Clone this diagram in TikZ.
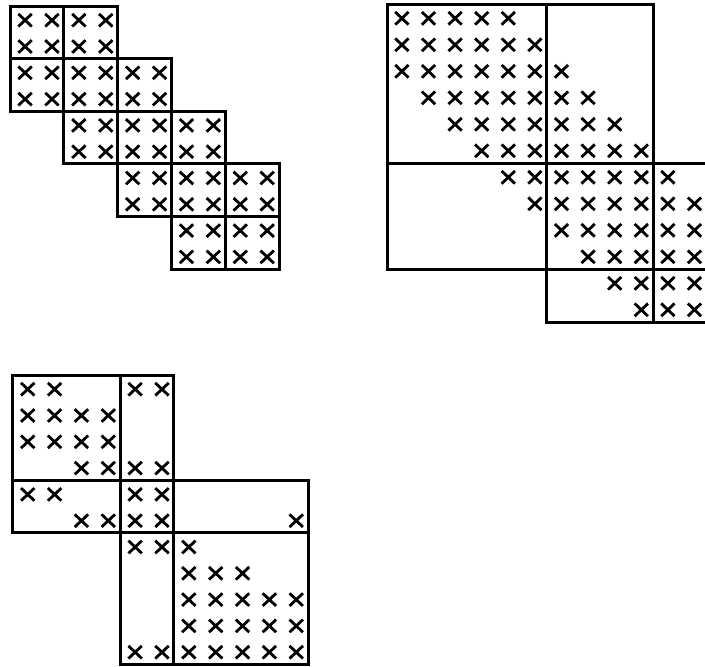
\documentclass[tikz,border=0pt]{standalone}
\tikzset{
  gridline/.style={line width=3pt, line join=miter, line cap=rect},
  crossmark/.style={line width=2.8pt},
}
\newcommand\crs[2]{\draw[crossmark,shift={(#2-0.44,#1-0.46)}] (-0.25,-0.24)--(0.25,0.24) (0.25,-0.24)--(-0.25,0.24);}
\newcommand\blk[4]{\draw[gridline] (#1,#3) rectangle (#2,#4);}
\begin{document}
\begin{tikzpicture}[x=1pt,y=-1pt]
\useasboundingbox (0,0) rectangle (705,667);
\clip (0,0) rectangle (705,667);
\fill[white] (0,0) rectangle (705,667);
% ---------- top-left: block tridiagonal ----------
\begin{scope}[xshift=10pt,yshift=-6pt,x=26.9pt,y=-26.3pt]
  \foreach \bi in {1,...,5}{
    \foreach \bj in {1,...,5}{
      \pgfmathtruncatemacro\dd{abs(\bi-\bj)}
      \ifnum\dd<2
        \pgfmathtruncatemacro\ca{2*\bj-2}
        \pgfmathtruncatemacro\cb{2*\bj}
        \pgfmathtruncatemacro\ra{2*\bi-2}
        \pgfmathtruncatemacro\rb{2*\bi}
        \blk{\ca}{\cb}{\ra}{\rb}
        \pgfmathtruncatemacro\rr{2*\bi-1}
        \pgfmathtruncatemacro\cc{2*\bj-1}
        \crs{\rr}{\cc}\crs{\rr}{\cb}\crs{\rb}{\cc}\crs{\rb}{\cb}
      \fi
    }
  }
\end{scope}
% ---------- top-right: band matrix ----------
\begin{scope}[xshift=387pt,yshift=-4pt,x=26.6pt,y=-26.5pt]
  \foreach \ca/\cb/\ra/\rb in {0/6/0/6, 6/10/0/6, 0/6/6/10, 6/10/6/10, 10/12/6/10, 6/10/10/12, 10/12/10/12}{
    \blk{\ca}{\cb}{\ra}{\rb}
  }
  \foreach \r in {1,...,12}{
    \pgfmathtruncatemacro\ca{max(1,\r-2)}
    \pgfmathtruncatemacro\cb{min(12,\r+4)}
    \foreach \c in {\ca,...,\cb}{\crs{\r}{\c}}
  }
\end{scope}
% ---------- bottom-left ----------
\begin{scope}[xshift=12.7pt,yshift=-375pt,x=26.85pt,y=-26.3pt]
  \foreach \ca/\cb/\ra/\rb in {0/4/0/4, 4/6/0/4, 0/4/4/6, 4/6/4/6, 6/11/4/6, 4/6/6/11, 6/11/6/11}{
    \blk{\ca}{\cb}{\ra}{\rb}
  }
  \foreach \r/\cs in {1/{1,2,5,6}, 2/{1,2,3,4}, 3/{1,2,3,4}, 4/{3,4,5,6},
                      5/{1,2,5,6}, 6/{3,4,5,6,11}, 7/{5,6,7}, 8/{7,8,9},
                      9/{7,8,9,10,11}, 10/{7,8,9,10,11}, 11/{5,6,7,8,9,10,11}}{
    \foreach \c in \cs {\crs{\r}{\c}}
  }
\end{scope}
\end{tikzpicture}
\end{document}
